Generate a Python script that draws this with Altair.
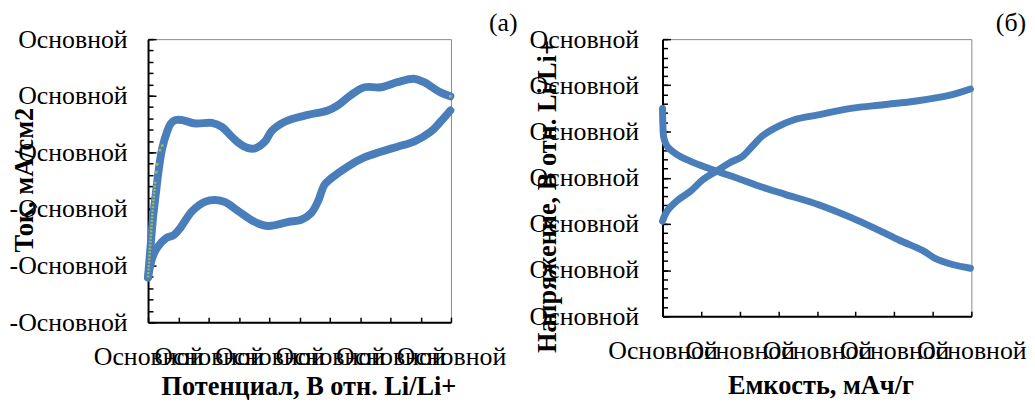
import json
import altair as alt
import pandas as pd

FONT = "Liberation Serif"
BLUE = "#4A7EBB"
GREEN = "#9BBB59"

# ---------------- panel (a): cyclic voltammogram ----------------
cv_ox_x = [2.000, 2.022, 2.041, 2.063, 2.090, 2.117, 2.158, 2.188, 2.227, 2.281, 2.391, 2.527,
           2.609, 2.680, 2.746, 2.820, 2.883, 2.965, 3.017, 3.129, 3.293, 3.484, 3.566, 3.673,
           3.785, 3.921, 4.058, 4.195, 4.277, 4.413, 4.495]
cv_ox_y = [-0.221, -0.163, -0.116, -0.075, -0.028, 0.007, 0.037, 0.051, 0.057, 0.057, 0.051, 0.052,
           0.045, 0.030, 0.017, 0.008, 0.007, 0.019, 0.037, 0.054, 0.065, 0.074, 0.083, 0.101,
           0.115, 0.115, 0.124, 0.130, 0.124, 0.106, 0.099]
cv_red_x = [4.495, 4.413, 4.331, 4.195, 4.058, 3.921, 3.785, 3.648, 3.511, 3.457, 3.402, 3.347,
            3.265, 3.156, 2.992, 2.883, 2.746, 2.637, 2.555, 2.473, 2.363, 2.268, 2.213, 2.145,
            2.076, 2.035, 2.000]
cv_red_y = [0.074, 0.054, 0.036, 0.019, 0.010, 0.001, -0.009, -0.025, -0.046, -0.057, -0.087, -0.107,
            -0.119, -0.123, -0.130, -0.123, -0.104, -0.088, -0.084, -0.087, -0.104, -0.133, -0.146, -0.152,
            -0.168, -0.186, -0.221]
# small green markers of the second series
cv_dot_line_x = [2.000, 2.008, 2.016, 2.024, 2.032, 2.040, 2.050, 2.060]
cv_dot_line_y = [-0.221, -0.196, -0.170, -0.145, -0.120, -0.096, -0.072, -0.050]
cv_dot_x = [2.068, 2.076, 2.098, 2.117, 4.495]
cv_dot_y = [-0.035, -0.021, 0.004, 0.012, 0.099]

a_x_ticks = [2.0, 2.25, 2.5, 2.75, 3.0, 3.25, 3.5, 3.75, 4.0, 4.25, 4.5]
a_x_label_vals = [2.0, 2.5, 3.0, 3.5, 4.0, 4.5]
a_x_labels = ["Основной", "Основной", "Основной", "Основной", "Основной", "Основной"]
a_y_major = [-0.3, -0.2, -0.1, 0.0, 0.1, 0.2]
a_y_labels = ["-Основной", "-Основной", "-Основной", "Основной", "Основной", "Основной"]
a_y_minor = [round(-0.3 + 0.02 * i, 2) for i in range(26)]

# ---------------- panel (б): charge / discharge ----------------
ch_x = [0.0, 2.4, 7.5, 14.3, 21.0, 27.9, 34.6, 41.4, 46.5, 51.6, 58.4, 68.6, 80.5, 97.5, 114.5, 131.5, 148.4, 159.5]
ch_y = [3.03, 3.14, 3.25, 3.35, 3.48, 3.57, 3.66, 3.73, 3.84, 3.95, 4.04, 4.13, 4.18, 4.25, 4.29, 4.33, 4.39, 4.46]
dis_x = [0.0, 0.2, 0.7, 2.4, 7.5, 14.3, 22.8, 29.6, 38.1, 49.9, 63.5, 80.5, 97.5, 111.1, 123.0, 134.9, 141.7, 150.2, 159.5]
dis_y = [4.25, 4.07, 3.93, 3.84, 3.75, 3.68, 3.61, 3.56, 3.50, 3.41, 3.32, 3.21, 3.07, 2.94, 2.82, 2.71, 2.62, 2.56, 2.52]

b_x_ticks = [0, 20, 40, 60, 80, 100, 120, 140, 160]
b_x_label_vals = [0, 40, 80, 120, 160]
b_x_labels = ["Основной", "Основной", "Основной", "Основной", "Основной"]
b_y_major = [2.0, 2.5, 3.0, 3.5, 4.0, 4.5, 5.0]
b_y_labels = ["Основной"] * 7
b_y_minor = [round(2.0 + 0.1 * i, 1) for i in range(31)]

W_A, H_A = 305, 285
W_B, H_B = 311, 279

LBL = dict(labelFont=FONT, labelFontSize=26, labelColor="black", labelOverlap=False,
           labelBound=False, labelFlush=False)
TTL = dict(titleFont=FONT, titleFontSize=26.5, titleFontWeight="bold", titleColor="black")


def lab_expr(labels, start, step):
    return f"{json.dumps(labels, ensure_ascii=False)}[round((datum.value - ({start})) / {step})]"


def panel(df, dots_line, dots, xdom, ydom, W, H, xt, xlv, xl, ymaj, yl, ymin,
          xtitle, ytitle, xtitle_x, xtitle_y, ytitle_x, ytitle_y, ylabpad, tag, tag_dx, sw):
    xs = alt.Scale(domain=xdom, nice=False, zero=False)
    ys = alt.Scale(domain=ydom, nice=False, zero=False)
    main = alt.Chart(df).mark_line(color=BLUE, strokeWidth=sw, strokeCap="round",
                                   strokeJoin="round", interpolate="catmull-rom").encode(
        x=alt.X("x:Q", scale=xs, axis=alt.Axis(
            values=xlv, labelExpr=lab_expr(xl, xlv[0], xlv[1] - xlv[0]), ticks=False, grid=False,
            domainColor="black", domainWidth=2, labelPadding=22, title=xtitle,
            titleX=xtitle_x, titleY=xtitle_y, titleBaseline="middle", titleAlign="center",
            **LBL, **TTL)),
        y=alt.Y("y:Q", scale=ys, axis=alt.Axis(
            values=ymaj, labelExpr=lab_expr(yl, ymaj[0], round(ymaj[1] - ymaj[0], 3)), ticks=False,
            grid=False, domainColor="black", domainWidth=2, labelPadding=ylabpad, title=ytitle,
            titleX=ytitle_x, titleY=ytitle_y, titleAngle=270, titleBaseline="middle",
            titleAlign="center", **LBL, **TTL)),
        detail="branch:N", order="i:Q")
    major = alt.Chart(df).mark_line(strokeOpacity=0).encode(
        x=alt.X("x:Q", scale=xs, axis=alt.Axis(
            orient="top", offset=-H, values=xt, labels=False, domain=False, ticks=True,
            tickSize=5, tickColor="black", tickWidth=1.5, grid=False, title=None)),
        y=alt.Y("y:Q", scale=ys, axis=alt.Axis(
            orient="right", offset=-W, values=ymaj, labels=False, domain=False, ticks=True,
            tickSize=8, tickColor="black", tickWidth=1.5, grid=False, title=None)),
        detail="branch:N")
    minor = alt.Chart(df).mark_line(strokeOpacity=0).encode(
        x=alt.X("x:Q", scale=xs, axis=None),
        y=alt.Y("y:Q", scale=ys, axis=alt.Axis(
            orient="right", offset=-W, values=ymin, labels=False, domain=False, ticks=True,
            tickSize=5, tickColor="black", tickWidth=1.5, grid=False, title=None)),
        detail="branch:N")
    layers = [main, major, minor]
    if dots_line is not None:
        layers.append(alt.Chart(dots_line).mark_line(color=GREEN, strokeWidth=2.5, strokeDash=[2, 1.5]).encode(
            x=alt.X("x:Q", scale=xs, axis=None), y=alt.Y("y:Q", scale=ys, axis=None)))
    if dots is not None:
        layers.append(alt.Chart(dots).mark_square(color=GREEN, size=7, opacity=1).encode(
            x=alt.X("x:Q", scale=xs, axis=None), y=alt.Y("y:Q", scale=ys, axis=None)))
    return alt.layer(*layers).resolve_axis(x="independent", y="independent").properties(
        width=W, height=H,
        title=alt.TitleParams(tag, anchor="end", frame="bounds", font=FONT, fontSize=26,
                              fontWeight="normal", color="black", offset=-10, dx=tag_dx))


df_a = pd.concat([
    pd.DataFrame({"x": cv_ox_x, "y": cv_ox_y, "branch": "ox", "i": range(len(cv_ox_x))}),
    pd.DataFrame({"x": cv_red_x, "y": cv_red_y, "branch": "red", "i": range(len(cv_red_x))}),
])
df_b = pd.concat([
    pd.DataFrame({"x": ch_x, "y": ch_y, "branch": "charge", "i": range(len(ch_x))}),
    pd.DataFrame({"x": dis_x, "y": dis_y, "branch": "discharge", "i": range(len(dis_x))}),
])

left = panel(df_a, pd.DataFrame({"x": cv_dot_line_x, "y": cv_dot_line_y}),
             pd.DataFrame({"x": cv_dot_x, "y": cv_dot_y}),
             [2.0, 4.5], [-0.3, 0.2], W_A, H_A, a_x_ticks, a_x_label_vals, a_x_labels,
             a_y_major, a_y_labels, a_y_minor, "Потенциал, В отн. Li/Li+", "Ток, мА/см2",
             W_A / 2 + 9, 65, -124, H_A / 2 - 1, 21, "(a)", 12, 8)
right = panel(df_b, None, None, [0, 160], [2.0, 5.0], W_B, H_B, b_x_ticks, b_x_label_vals,
              b_x_labels, b_y_major, b_y_labels, b_y_minor, "Емкость, мАч/г",
              "Напряжение, В отн. Li/Li+", W_B / 2 + 3.5, 70, -116, 158, 24, "(б)", 0, 7)

chart = alt.hconcat(left, right, spacing=213, bounds="flush").configure_view(
    stroke="#888888", strokeWidth=1).properties(padding=0)

chart.save("out.html", embed_options={"renderer": "svg", "actions": False})
